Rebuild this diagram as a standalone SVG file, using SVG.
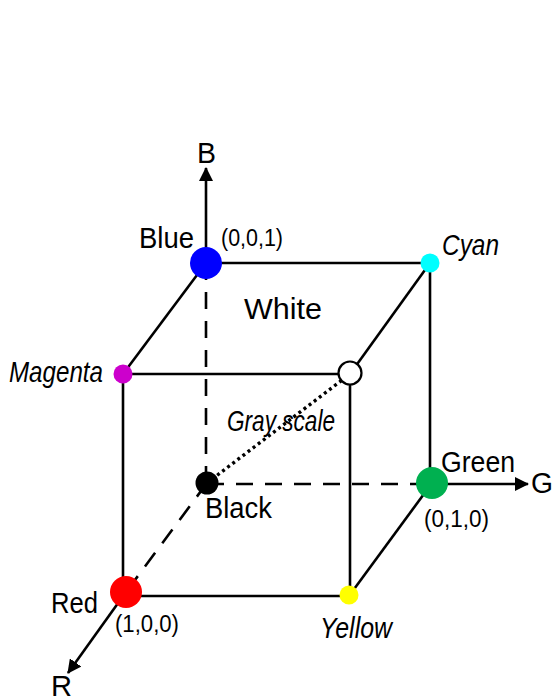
<svg xmlns="http://www.w3.org/2000/svg" width="553" height="700" viewBox="0 0 553 700">
<defs>
<marker id="arr" viewBox="0 0 14 14" refX="13" refY="7" markerWidth="14" markerHeight="14" markerUnits="userSpaceOnUse" orient="auto">
<path d="M0,0 L14,7 L0,14 Z" fill="#000"/>
</marker>
<style>
.e{stroke:#000;stroke-width:2.6;fill:none}
.d{stroke-dasharray:17 12}
.o{stroke-width:3.4;stroke-dasharray:3 3.4}
text{font-family:"Liberation Sans",Arial,sans-serif;fill:#000}
.l{font-size:30px}
.i{font-size:30px;font-style:italic}
.c{font-size:23px}
</style>
</defs>
<rect width="553" height="700" fill="#fff"/>
<g id="connectors">
<line class="e" x1="206" y1="263" x2="430" y2="263"/>
<line class="e" x1="206" y1="263" x2="123" y2="374"/>
<line class="e" x1="430" y1="263" x2="350" y2="374"/>
<line class="e" x1="123" y1="374" x2="350" y2="374"/>
<line class="e" x1="123" y1="374" x2="123" y2="596"/>
<line class="e" x1="350" y1="374" x2="350" y2="596"/>
<line class="e" x1="430" y1="263" x2="430" y2="483"/>
<line class="e" x1="126" y1="596" x2="349" y2="596"/>
<line class="e" x1="432" y1="483" x2="349" y2="596"/>
<line class="e d" x1="206" y1="263" x2="206" y2="483"/>
<line class="e d" x1="207" y1="484" x2="432" y2="484"/>
<line class="e d" x1="207" y1="483" x2="126" y2="592"/>
<line class="e o" x1="207" y1="483" x2="350" y2="374"/>
<line class="e" x1="206" y1="263" x2="206" y2="168" marker-end="url(#arr)"/>
<line class="e" x1="432" y1="484" x2="528" y2="484" marker-end="url(#arr)"/>
<line class="e" x1="126" y1="592" x2="68" y2="673" marker-end="url(#arr)"/>
</g>
<g id="axisB"><text class="l" x="197" y="163" textLength="19" lengthAdjust="spacingAndGlyphs">B</text></g>
<g id="axisG"><text class="l" x="531" y="493" textLength="22" lengthAdjust="spacingAndGlyphs">G</text></g>
<g id="axisR"><text class="l" x="51" y="696" textLength="21" lengthAdjust="spacingAndGlyphs">R</text></g>
<g id="blue">
<circle cx="206" cy="263" r="16" fill="#0000ff"/>
<text class="l" x="139" y="248" textLength="55" lengthAdjust="spacingAndGlyphs">Blue</text>
<text class="c" x="221" y="246" textLength="62" lengthAdjust="spacingAndGlyphs">(0,0,1)</text>
</g>
<g id="cyan">
<circle cx="430" cy="263" r="9.5" fill="#00ffff"/>
<text class="i" x="442" y="255" textLength="57" lengthAdjust="spacingAndGlyphs">Cyan</text>
</g>
<g id="magenta">
<circle cx="123" cy="374" r="9.5" fill="#cc00cc"/>
<text class="i" x="9" y="382" textLength="94" lengthAdjust="spacingAndGlyphs">Magenta</text>
</g>
<g id="white">
<circle cx="350" cy="373" r="11.5" fill="#fff" stroke="#000" stroke-width="2.2"/>
<text class="l" x="244" y="319" textLength="78" lengthAdjust="spacingAndGlyphs">White</text>
</g>
<g id="grayscale">
<text class="i" x="227" y="431" textLength="108" lengthAdjust="spacingAndGlyphs">Gray scale</text>
</g>
<g id="black">
<circle cx="207" cy="483" r="11.5" fill="#000"/>
<text class="l" x="205" y="518" textLength="67" lengthAdjust="spacingAndGlyphs">Black</text>
</g>
<g id="green">
<circle cx="432" cy="483" r="16" fill="#00b050"/>
<text class="l" x="441" y="472" textLength="74" lengthAdjust="spacingAndGlyphs">Green</text>
<text class="c" x="424" y="527" textLength="65" lengthAdjust="spacingAndGlyphs">(0,1,0)</text>
</g>
<g id="red">
<circle cx="126" cy="592" r="16" fill="#ff0000"/>
<text class="l" x="51" y="613" textLength="47" lengthAdjust="spacingAndGlyphs">Red</text>
<text class="c" x="115" y="632" textLength="64" lengthAdjust="spacingAndGlyphs">(1,0,0)</text>
</g>
<g id="yellow">
<circle cx="349" cy="595" r="9.5" fill="#ffff00"/>
<text class="i" x="320" y="638" textLength="72" lengthAdjust="spacingAndGlyphs">Yellow</text>
</g>
</svg>
